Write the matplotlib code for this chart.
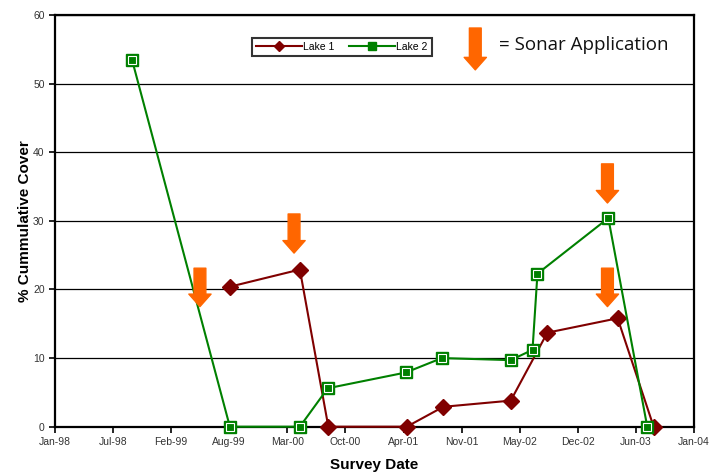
import matplotlib
matplotlib.use("Agg")
import matplotlib.pyplot as plt
import matplotlib.dates as mdates
import numpy as np

# survey data
lake1_dates = ["1999-08-30", "2000-04-27", "2000-08-03", "2001-04-30", "2001-09-03",
               "2002-04-23", "2002-08-27", "2003-04-26", "2003-08-28"]
lake1_cover = [20.4, 22.9, 0.0, 0.0, 2.9, 3.8, 13.7, 15.8, 0.0]

lake2_dates = ["1998-09-27", "1999-08-30", "2000-04-27", "2000-08-01", "2001-04-27",
               "2001-08-29", "2002-04-23", "2002-07-07", "2002-07-24", "2003-03-25",
               "2003-08-06"]
lake2_cover = [53.5, 0.0, 0.0, 5.6, 7.9, 10.0, 9.7, 11.2, 22.3, 30.4, 0.0]

# sonar application arrows (date, top, tip)
sonar_dates = ["1999-05-19", "2000-04-07", "2003-03-22", "2003-03-22"]
sonar_top = [23.1, 31.0, 38.3, 23.1]
sonar_tip = [17.5, 25.3, 32.6, 17.5]

key_date = "2001-12-22"
key_top, key_tip = 58.1, 52.0

to_d = lambda lst: [np.datetime64(d) for d in lst]

plt.rcParams['font.family'] = ['Liberation Sans', 'DejaVu Sans']

fig = plt.figure(figsize=(7.2, 4.74), dpi=100)
ax = fig.add_axes([0.0764, 0.0998, 0.8875, 0.8686])

red = "#800000"
green = "#008000"
orange = "#ff6600"

ax.plot(to_d(lake1_dates), lake1_cover, color=red, lw=1.5, marker="D", ms=8,
        mfc=red, mec=red, clip_on=False, zorder=4, label="Lake 1")
ax.plot(to_d(lake2_dates), lake2_cover, color=green, lw=1.5, marker="s", ms=9,
        mfc=green, mec=green, clip_on=False, zorder=5, label="Lake 2")
# white inner edge of the squares
ax.plot(to_d(lake2_dates), lake2_cover, ls="none", marker="s", ms=5.5,
        mfc="none", mec="white", mew=0.8, clip_on=False, zorder=6)

def sonar_arrow(x, top, tip):
    ax.annotate("", xy=(np.datetime64(x), tip), xytext=(np.datetime64(x), top),
                arrowprops=dict(arrowstyle="simple,head_length=0.9,head_width=1.6,tail_width=0.85",
                                color=orange, shrinkA=0, shrinkB=0),
                annotation_clip=False, zorder=7)

for d, t, b in zip(sonar_dates, sonar_top, sonar_tip):
    sonar_arrow(d, t, b)
sonar_arrow(key_date, key_top, key_tip)
ax.text(np.datetime64("2002-03-12"), 55.6, "= Sonar Application", fontsize=13.5,
        family=["Open Sans", "DejaVu Sans"], va="center", ha="left", color="#111111")

ax.set_ylim(0, 60)
ax.set_yticks(np.arange(0, 61, 10))
ax.set_xlim(np.datetime64("1998-01-05"), np.datetime64("2004-01-14"))
xt = [np.datetime64("1998-01-05") + np.timedelta64(200 * i, "D") for i in range(12)]
ax.set_xticks(xt)
ax.xaxis.set_major_formatter(mdates.DateFormatter("%b-%y"))

ax.grid(axis="y", color="black", lw=0.9)
ax.set_axisbelow(True)
for s in ax.spines.values():
    s.set_linewidth(1.6)
    s.set_color("black")
ax.tick_params(axis="both", labelsize=7.5, labelcolor="#333333", direction="out",
               length=4, width=1.2)

ax.set_ylabel("% Cummulative Cover", fontsize=11, fontweight="bold", labelpad=1)
ax.set_xlabel("Survey Date", fontsize=11, fontweight="bold", labelpad=8)

leg = ax.legend(loc="upper center", bbox_to_anchor=(0.449, 0.957), ncol=2, fontsize=7.5,
                frameon=True, fancybox=False, borderpad=0.4, handlelength=4.4,
                columnspacing=1.4, handletextpad=0.1, markerscale=0.6)
leg.get_frame().set_edgecolor("black")
leg.get_frame().set_linewidth(1.5)

fig.savefig("out.png", dpi=100)
